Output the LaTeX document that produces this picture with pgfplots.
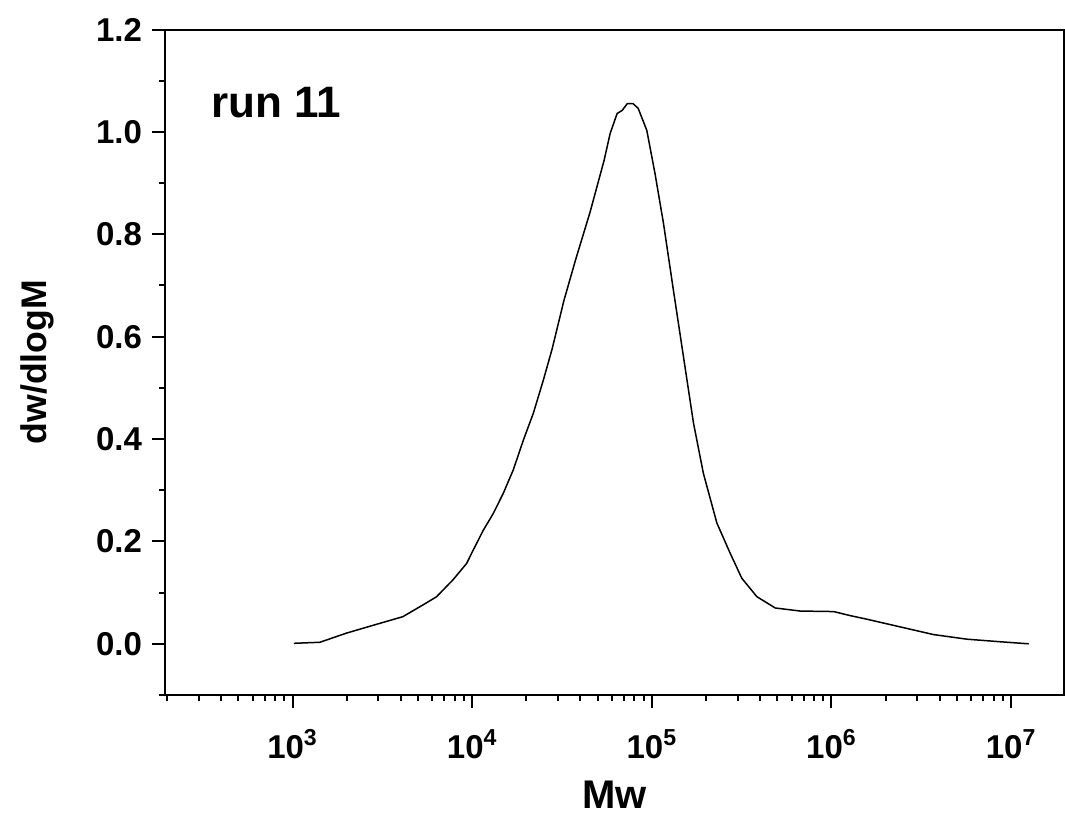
\documentclass[border=0pt]{standalone}
\usepackage{pgfplots}
\pgfplotsset{compat=1.18}
\usepackage{fontspec}
\setmainfont{Liberation Sans}
\begin{document}
\begin{tikzpicture}
\useasboundingbox (-82.5pt,-68.5pt) rectangle (450pt,347.5pt);
\begin{axis}[
  at={(0,0)}, anchor=south west,
  scale only axis, width=449.5pt, height=332.75pt,
  xmode=log, log basis x=10,
  xmin=195, xmax=1.97e7,
  ymin=-0.1, ymax=1.2,
  axis line style={line width=1pt},
  tick style={line width=1pt, black},
  tick align=outside, tick pos=left,
  major tick length=6.5pt, minor tick length=3pt,
  xtick={1e3,1e4,1e5,1e6,1e7},
  xticklabels={10\textsuperscript{3},10\textsuperscript{4},10\textsuperscript{5},10\textsuperscript{6},10\textsuperscript{7}},
  minor xtick={200,300,400,500,600,700,800,900,2000,3000,4000,5000,6000,7000,8000,9000,2e4,3e4,4e4,5e4,6e4,7e4,8e4,9e4,2e5,3e5,4e5,5e5,6e5,7e5,8e5,9e5,2e6,3e6,4e6,5e6,6e6,7e6,8e6,9e6},
  ytick={0,0.2,0.4,0.6,0.8,1.0,1.2},
  minor ytick={-0.1,0.1,0.3,0.5,0.7,0.9,1.1},
  yticklabel style={/pgf/number format/fixed, /pgf/number format/fixed zerofill, /pgf/number format/precision=1, /pgf/number format/assume math mode=true, xshift=-1.5pt},
  ticklabel style={font=\bfseries\fontsize{16.5}{19}\selectfont},
  xticklabel style={anchor=base, yshift=-25pt},
  xlabel={Mw}, ylabel={dw/dlogM},
  xlabel style={font=\bfseries\fontsize{20}{23}\selectfont, at={(axis description cs:0.5,-0.150)}, anchor=center},
  ylabel style={font=\bfseries\fontsize{17.8}{21}\selectfont, at={(axis description cs:-0.1424,0.5)}, anchor=center},
  clip=false,
]
\addplot[black, line width=0.75pt] coordinates {
(1016,0.001) (1419,0.003) (2000,0.021) (3062,0.040) (4111,0.053) (5321,0.076)
(6339,0.092) (7816,0.125) (9311,0.157) (9931,0.177) (11535,0.222) (13122,0.255)
(14894,0.294) (16943,0.340) (19275,0.398) (21878,0.450) (24889,0.515) (27861,0.576)
(32434,0.671) (37844,0.753) (45290,0.843) (54200,0.944) (58614,0.997) (64121,1.036)
(68391,1.042) (72946,1.055) (78705,1.055) (83946,1.046) (93756,1.003) (104232,0.918)
(116145,0.821) (131826,0.691) (149968,0.561) (170608,0.431) (193642,0.333) (230144,0.236)
(272898,0.177) (316957,0.128) (384592,0.092) (486407,0.070) (669885,0.064) (1028016,0.063)
(1273503,0.055) (1577615,0.048) (2415460,0.033) (3706807,0.018) (5688529,0.009) (8709636,0.004)
(12531500,0.000)
};
\node[anchor=base west, font=\bfseries\fontsize{22}{25}\selectfont] at (rel axis cs:0.0434,0.8685) {run 11};
\end{axis}
\end{tikzpicture}
\end{document}
